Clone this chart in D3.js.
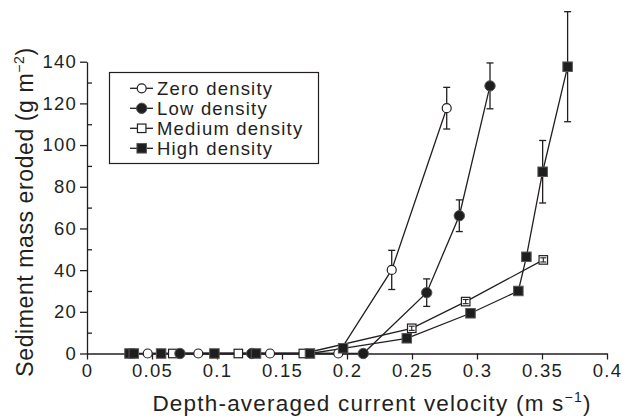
<!DOCTYPE html>
<html><head><meta charset="utf-8">
<script src="https://cdn.jsdelivr.net/npm/d3@7"></script>
<style>
body{margin:0;background:#fff}
svg text{font-family:"Liberation Sans",Arial,Helvetica,sans-serif;fill:#231f20}
</style>
</head><body><svg id="c" width="627" height="420"></svg>
<script>
// ---- data ----
const seriesNames = ["Zero density", "Low density", "Medium density", "High density"];
const zeroX = [0.0467, 0.0856, 0.1408, 0.1933, 0.2344, 0.2767];
const zeroY = [0, 0, 0, 0, 40.1, 117.7];
const zeroErr = [0, 0, 0, 0, 9.4, 10.0];
const lowX = [0.0715, 0.1267, 0.2125, 0.2613, 0.2864, 0.3100];
const lowY = [0, 0, 0, 29.2, 66.1, 128.4];
const lowErr = [0, 0, 0, 6.6, 7.6, 11.0];
const mediumX = [0.0660, 0.1164, 0.1664, 0.2498, 0.2913, 0.3510];
const mediumY = [0, 0, 0, 12.1, 24.9, 44.9];
const mediumErr = [0, 0, 0, 1.0, 1.0, 1.0];
const highX = [0.0327, 0.0360, 0.0570, 0.0980, 0.1300, 0.1715, 0.1970, 0.2460, 0.2950, 0.3318, 0.3380, 0.3505, 0.3697];
const highY = [0, 0, 0, 0, 0, 0, 2.5, 7.3, 19.3, 30.0, 46.4, 87.2, 137.6];
const highErr = [0, 0, 0, 0, 0, 0, 0, 0, 0, 0, 0, 15.0, 26.4];
const xTickValues = [0, 0.05, 0.1, 0.15, 0.2, 0.25, 0.3, 0.35, 0.4];
const xTickLabels = ["0", "0.05", "0.1", "0.15", "0.2", "0.25", "0.3", "0.35", "0.4"];
const yTickValues = [0, 20, 40, 60, 80, 100, 120, 140];
const yMinorValues = [10, 30, 50, 70, 90, 110, 130];
const xTitle = "Depth-averaged current velocity (m s";
const xTitleSup = "\u22121";
const yTitle = "Sediment mass eroded (g m";
const yTitleSup = "\u22122";

// ---- build ----
const series = [
  {name: seriesNames[0], x: zeroX, y: zeroY, e: zeroErr, shape: "circle", filled: false, order: 0},
  {name: seriesNames[1], x: lowX, y: lowY, e: lowErr, shape: "circle", filled: true, order: 2},
  {name: seriesNames[2], x: mediumX, y: mediumY, e: mediumErr, shape: "square", filled: false, order: 1},
  {name: seriesNames[3], x: highX, y: highY, e: highErr, shape: "square", filled: true, order: 3}
];

const svg = d3.select("#c");
const X0 = 87, X1 = 607, Y0 = 353.5, Y1 = 61.7;
const x = d3.scaleLinear().domain([0, 0.4]).range([X0, X1]);
const y = d3.scaleLinear().domain([0, 140]).range([Y0, Y1]);
const ink = "#231f20";
const fontSize = 18.5, ls = "1.2px";

// axes
const gx = svg.append("g").attr("transform", `translate(0,${Y0})`)
  .call(d3.axisBottom(x).tickValues(xTickValues).tickFormat((d, i) => xTickLabels[i]).tickSizeInner(6).tickSizeOuter(0).tickPadding(4));
const gy = svg.append("g").attr("transform", `translate(${X0},0)`)
  .call(d3.axisLeft(y).tickValues(yTickValues).tickSizeInner(7).tickSizeOuter(0).tickPadding(3));
const gym = svg.append("g").attr("transform", `translate(${X0},0)`)
  .call(d3.axisRight(y).tickValues(yMinorValues).tickFormat("").tickSizeInner(5).tickSizeOuter(0));
gym.select(".domain").remove();
[gx, gy, gym].forEach(g => {
  g.selectAll("path.domain").attr("stroke", ink).attr("stroke-width", 1.3);
  g.selectAll(".tick line").attr("stroke", ink).attr("stroke-width", 1.3);
  g.selectAll("text").attr("font-size", fontSize).attr("letter-spacing", ls).attr("fill", ink)
    .style("font-family", '"Liberation Sans",Arial,sans-serif');
});

// titles
const xt = svg.append("text").attr("x", 372).attr("y", 411).attr("text-anchor", "middle")
  .attr("font-size", 22.5).attr("letter-spacing", "1.2px");
xt.append("tspan").text(xTitle);
xt.append("tspan").attr("font-size", 14).attr("dy", -9).text(xTitleSup);
xt.append("tspan").attr("dy", 9).text(")");

const yt = svg.append("text").attr("transform", `translate(33,212) rotate(-90)`).attr("text-anchor", "middle")
  .attr("font-size", 23).attr("letter-spacing", "0.6px");
yt.append("tspan").text(yTitle);
yt.append("tspan").attr("font-size", 14).attr("dy", -9).text(yTitleSup);
yt.append("tspan").attr("dy", 9).text(")");

// lines
const line = d3.line().x(d => x(d[0])).y(d => y(d[1]));
const plot = svg.append("g");
series.forEach(s => {
  const pts = s.x.map((v, i) => [v, s.y[i]]);
  plot.append("path").attr("d", line(pts)).attr("fill", "none").attr("stroke", ink).attr("stroke-width", 1.3);
});

// error bars
function errBar(g, cx, top, bot, w, sw) {
  const e = g.append("g").attr("stroke", ink).attr("stroke-width", sw);
  e.append("line").attr("x1", cx).attr("x2", cx).attr("y1", top).attr("y2", bot);
  e.append("line").attr("x1", cx - w).attr("x2", cx + w).attr("y1", top).attr("y2", top);
  e.append("line").attr("x1", cx - w).attr("x2", cx + w).attr("y1", bot).attr("y2", bot);
}
series.forEach(s => {
  s.x.forEach((v, i) => {
    const e = s.e[i];
    if (!e) return;
    errBar(plot, x(v), y(s.y[i] + e), y(s.y[i] - e), 3.5, 1.3);
  });
});

// markers
function marker(g, shape, filled, cx, cy) {
  let m;
  if (shape === "circle") {
    m = g.append("circle").attr("cx", cx).attr("cy", cy).attr("r", filled ? 5.2 : 4.5);
  } else {
    const s = filled ? 9.5 : 8.5;
    m = g.append("rect").attr("x", cx - s / 2).attr("y", cy - s / 2).attr("width", s).attr("height", s);
  }
  m.attr("fill", filled ? "#1e1e1e" : "#fff").attr("stroke", filled ? "#555" : ink).attr("stroke-width", filled ? 1 : 1.2);
  return m;
}
series.slice().sort((a, b) => a.order - b.order).forEach(s => {
  s.x.forEach((v, i) => marker(plot, s.shape, s.filled, x(v), y(s.y[i])));
  if (!s.filled && s.shape === "square") {
    s.x.forEach((v, i) => {
      const e = s.e[i];
      if (!e) return;
      errBar(plot, x(v), y(s.y[i] + e), y(s.y[i] - e), 3, 1.1);
    });
  }
});

// legend
const lg = svg.append("g");
lg.append("rect").attr("x", 109.5).attr("y", 72.5).attr("width", 209).attr("height", 91)
  .attr("fill", "#fff").attr("stroke", ink).attr("stroke-width", 1.2);
series.forEach((s, i) => {
  const ry = 88.3 + i * 20;
  lg.append("line").attr("x1", 130).attr("x2", 153).attr("y1", ry).attr("y2", ry).attr("stroke", ink).attr("stroke-width", 1.3);
  marker(lg, s.shape, s.filled, 141.7, ry);
  lg.append("text").attr("x", 157).attr("y", ry + 6.5).attr("font-size", fontSize).attr("letter-spacing", ls).text(s.name);
});
</script>
</body></html>
